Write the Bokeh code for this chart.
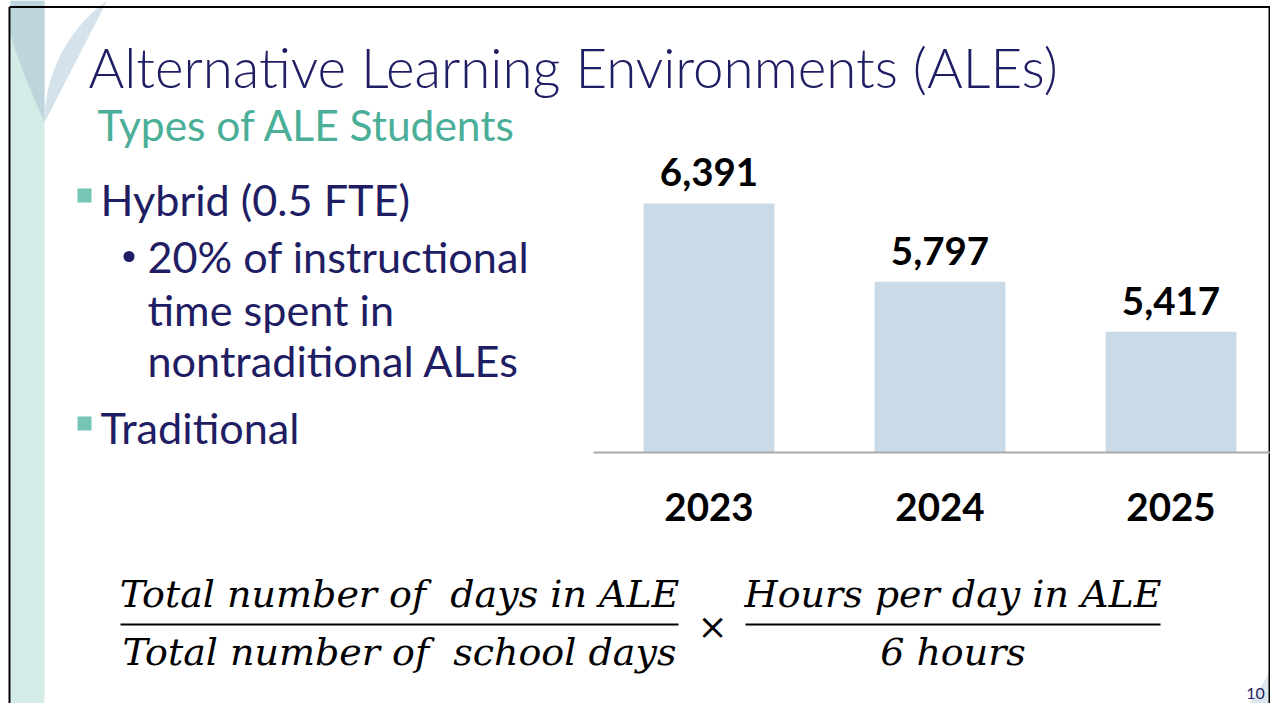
import numpy as np
from bokeh.plotting import figure
from bokeh.models import Range1d
from bokeh.core.properties import value
from bokeh.embed import file_html
from bokeh.resources import INLINE

# ---------------- data ----------------
years = ["2023", "2024", "2025"]
students = [6391, 5797, 5417]
value_labels = ["6,391", "5,797", "5,417"]
Y_MIN, Y_MAX = 4500, 6500

title = "Alternative Learning Environments (ALEs)"
subtitle = "Types of ALE Students"
bullet1 = "Hybrid (0.5 FTE)"
sub_lines = ["20% of instructional", "time spent in", "nontraditional ALEs"]
bullet2 = "Traditional"
num1, den1 = "Total number of\u00a0 days in ALE", "Total number of\u00a0 school days"
num2, den2 = "Hours per day in ALE", "6 hours"
page_no = "10"

# ---------------- layout constants ----------------
W, H = 1270, 703
NAVY = "#1F1D63"
TEAL = "#4BAE98"
SQ = "#76C6B5"
BAR = "#C9DBE7"
SANS = value("Lato")
SERIF = value("DejaVu Serif")
BL = 0.34  # baseline correction (fraction of font size)


def by(baseline, fs):
    return baseline - BL * fs


p = figure(width=W, height=H, output_backend="svg", toolbar_location=None,
           x_range=Range1d(0, W), y_range=Range1d(H, 0),
           x_axis_location=None, y_axis_location=None,
           min_border=0, min_border_left=0, min_border_right=0,
           min_border_top=0, min_border_bottom=0,
           outline_line_color=None, background_fill_color="white",
           border_fill_color="white")
p.grid.visible = False

# ---------------- slide decoration ----------------
p.quad(left=[10], right=[44], top=[0], bottom=[730], fill_color="#D4ECE7", line_color=None)
tip = (44, 122)
t = np.linspace(0, 1, 40)
lx = 10 + (tip[0] - 10) * (t ** 1.15)
ly = 33 + (tip[1] - 33) * t
p.patch(list(lx) + [44, 10], list(ly) + [0, 0], fill_color="#BDD6DE", line_color=None)
r = 150.0
yy = np.linspace(tip[1], 0, 40)
rx = tip[0] + r - np.sqrt(np.clip(r ** 2 - (tip[1] - yy) ** 2, 0, None))
p.patch([44] + list(rx), [tip[1]] + list(yy), fill_color="#D3E2EB", line_color=None)
cx, cy, cr = 1084.0, 576.0, 208.0
ang = np.linspace(np.arctan2(519 - cy, 1284 - cx), np.arctan2(730 - cy, 1170 - cx), 60)
p.patch(list(cx + cr * np.cos(ang)) + [1300, 1300], list(cy + cr * np.sin(ang)) + [730, 500],
        fill_color="#DDE7F0", line_color=None)
p.segment(x0=[9, 9, 1269], y0=[6.5, 6.5, 6.5], x1=[9, 1300, 1269], y1=[730, 6.5, 730],
          line_color="black", line_width=2)

# ---------------- titles ----------------
p.text(x=[88], y=[by(85, 54.7)], text=[title], text_font=value("Lato Light"), text_font_size="54.7px",
       text_color=NAVY, text_baseline="alphabetic")
p.text(x=[97], y=[by(138, 42.5)], text=[subtitle], text_font=SANS, text_font_size="42.5px",
       text_color=TEAL, text_baseline="alphabetic")

# ---------------- bullets ----------------
FS_B = 43.2
p.quad(left=[77, 77], right=[91, 91], top=[188, 416], bottom=[202, 430], fill_color=SQ, line_color=None)
p.text(x=[100], y=[by(213, FS_B)], text=[bullet1], text_font=SANS, text_font_size=f"{FS_B}px",
       text_color=NAVY, text_baseline="alphabetic")
p.scatter(x=[128.5], y=[256], size=11, marker="circle", fill_color=NAVY, line_color=None)
p.text(x=[147, 147, 147], y=[by(v, FS_B) for v in (270, 323, 374)], text=sub_lines, text_font=SANS,
       text_font_size=f"{FS_B}px", text_color=NAVY, text_baseline="alphabetic")
p.text(x=[100], y=[by(441, FS_B)], text=[bullet2], text_font=SANS, text_font_size=f"{FS_B}px",
       text_color=NAVY, text_baseline="alphabetic")

# ---------------- bar chart ----------------
SLOT, X0 = 231.0, 708.5          # px between categories, px centre of first bar
BASE_PX, TOP_PX = 452.0, 188.6   # px of Y_MIN and Y_MAX
k = (BASE_PX - TOP_PX) / (Y_MAX - Y_MIN)
p.extra_x_ranges = {"bx": Range1d(-X0 / SLOT, (W - X0) / SLOT)}
p.extra_y_ranges = {"by": Range1d(Y_MIN - (H - BASE_PX) / k, Y_MIN + BASE_PX / k)}
idx = list(range(len(years)))
p.vbar(x=idx, top=students, bottom=Y_MIN, width=131 / SLOT, x_range_name="bx",
       y_range_name="by", fill_color=BAR, line_color=None)
p.segment(x0=[593], x1=[1300], y0=[Y_MIN], y1=[Y_MIN], y_range_name="by",
          line_color="#A9A9A9", line_width=2)
FS_V = 38.5
p.text(x=idx, y=students, text=value_labels, x_range_name="bx", y_range_name="by",
       text_align="center", text_baseline="alphabetic", y_offset=-18 - BL * FS_V,
       text_font=SANS, text_font_style="bold", text_font_size=f"{FS_V}px", text_color="black")
p.text(x=idx, y=[Y_MIN] * len(years), text=years, x_range_name="bx", y_range_name="by",
       text_align="center", text_baseline="alphabetic", y_offset=68 - BL * FS_V,
       text_font=SANS, text_font_style="bold", text_font_size=f"{FS_V}px", text_color="black")

# ---------------- formula ----------------
FS_F = 38
p.text(x=[399, 399], y=[by(606, FS_F), by(664, FS_F)], text=[num1, den1], text_font=SERIF,
       text_font_style="italic", text_font_size=f"{FS_F}px", text_color="black",
       text_align="center", text_baseline="alphabetic")
p.text(x=[952.5, 952.5], y=[by(606, FS_F), by(664, FS_F)], text=[num2, den2], text_font=SERIF,
       text_font_style="italic", text_font_size=f"{FS_F}px", text_color="black",
       text_align="center", text_baseline="alphabetic")
p.segment(x0=[120, 745], x1=[678, 1160], y0=[624, 624], y1=[624, 624], line_color="black", line_width=2)
p.text(x=[712], y=[by(638, 36)], text=["\u00d7"], text_font=SERIF, text_font_size="36px",
       text_color="black", text_align="center", text_baseline="alphabetic")

# page number
p.text(x=[1255], y=[by(698, 16)], text=[page_no], text_font=SANS, text_font_size="16px",
       text_color=NAVY, text_align="center", text_baseline="alphabetic")

open("out.html", "w").write(file_html(p, INLINE))
